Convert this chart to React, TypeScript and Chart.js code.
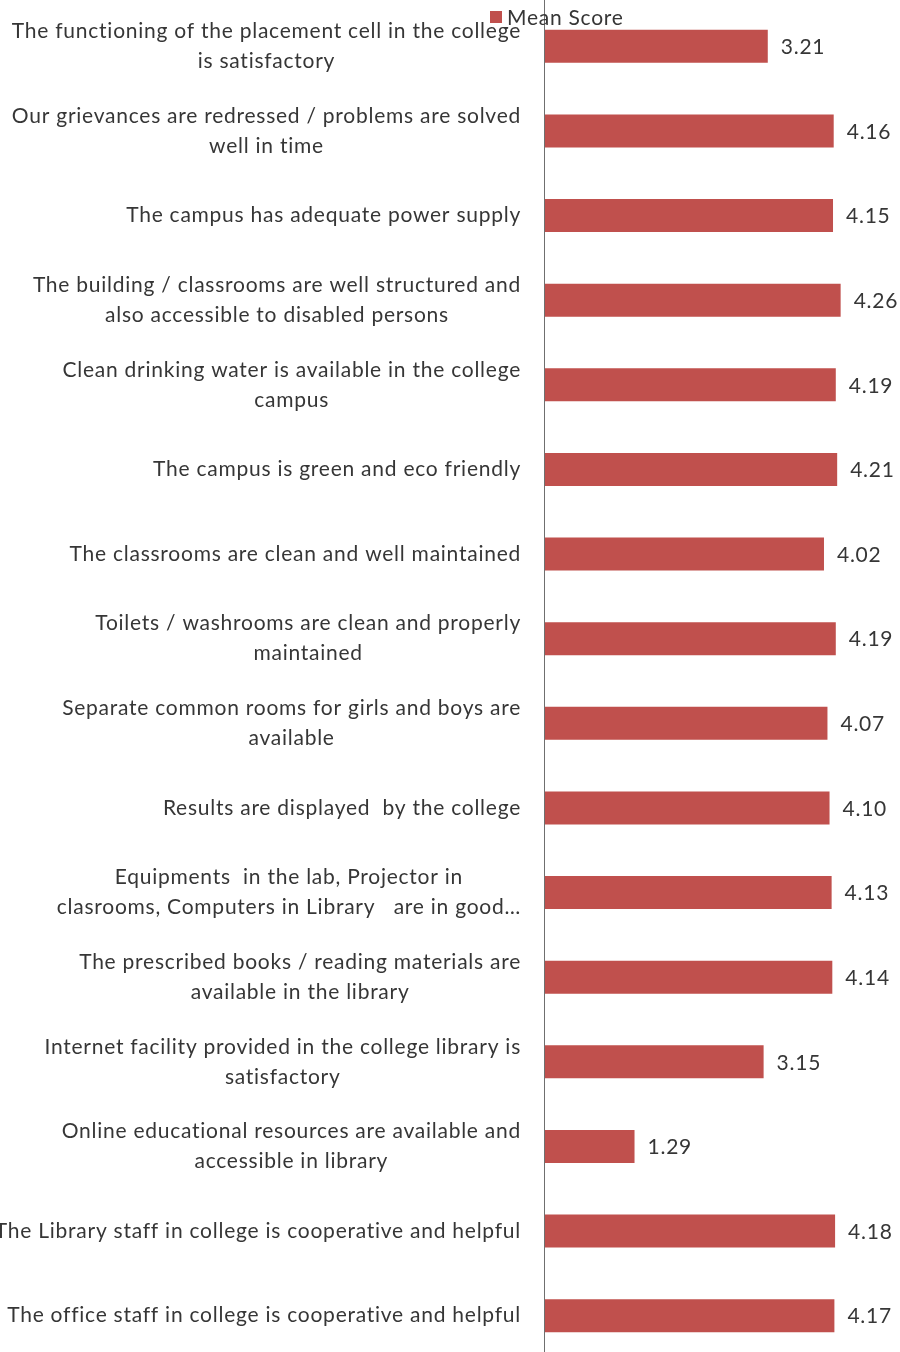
import React, { useEffect, useRef } from "react";
import { Chart, registerables } from "chart.js";

Chart.register(...registerables);

const categories: string[][] = [
  ["The functioning of the placement cell in the college", "is satisfactory"],
  ["Our grievances are redressed / problems are solved", "well in time"],
  ["The campus has adequate power supply"],
  ["The building / classrooms are well structured and", "also accessible to disabled persons"],
  ["Clean drinking water is available in the college", "campus"],
  ["The campus is green and eco friendly"],
  ["The classrooms are clean and well maintained"],
  ["Toilets / washrooms are clean and properly", "maintained"],
  ["Separate common rooms for girls and boys are", "available"],
  ["Results are displayed  by the college"],
  ["Equipments  in the lab, Projector in", "clasrooms, Computers in Library   are in good…"],
  ["The prescribed books / reading materials are", "available in the library"],
  ["Internet facility provided in the college library is", "satisfactory"],
  ["Online educational resources are available and", "accessible in library"],
  ["The Library staff in college is cooperative and helpful"],
  ["The office staff in college is cooperative and helpful"],
];

const meanScores: number[] = [
  3.21, 4.16, 4.15, 4.26, 4.19, 4.21, 4.02, 4.19, 4.07, 4.1, 4.13, 4.14, 3.15, 1.29, 4.18, 4.17,
];

const seriesName = "Mean Score";
const axisMin = 0;
const axisMax = 5;

const BAR_COLOR = "#c0504d";
const TEXT_COLOR = "#363636";
const FONT_FAMILY = "Lato, 'Open Sans', sans-serif";

export default function App() {
  const canvasRef = useRef<HTMLCanvasElement | null>(null);

  useEffect(() => {
    const canvas = canvasRef.current;
    if (!canvas) return;

    const overlay = {
      id: "overlay",
      afterDraw(chart: any) {
        const ctx = chart.ctx as any;
        const area = chart.chartArea;
        const xs = chart.scales.x;
        const ys = chart.scales.y;
        ctx.save();

        // vertical axis line
        const ax = Math.round(area.left) - 0.5;
        ctx.strokeStyle = "#6f6f6f";
        ctx.lineWidth = 1;
        ctx.beginPath();
        ctx.moveTo(ax, 0);
        ctx.lineTo(ax, chart.height);
        ctx.stroke();

        // category labels: block right-aligned, lines centred within block
        ctx.font = `21px ${FONT_FAMILY}`;
        ctx.letterSpacing = "0.75px";
        ctx.fillStyle = TEXT_COLOR;
        ctx.textBaseline = "middle";
        ctx.textAlign = "center";
        const labelRight = area.left - 24;
        const lineH = 30;
        categories.forEach((lines, i) => {
          const y = ys.getPixelForValue(i);
          let w = 0;
          lines.forEach((l) => (w = Math.max(w, ctx.measureText(l).width)));
          const cx = labelRight - w / 2;
          lines.forEach((l, j) => {
            ctx.fillText(l, cx, y + (j - (lines.length - 1) / 2) * lineH);
          });
        });

        // value labels
        ctx.textAlign = "left";
        meanScores.forEach((v, i) => {
          const y = ys.getPixelForValue(i) + 1;
          const x = xs.getPixelForValue(v) + 13;
          ctx.fillText(v.toFixed(2), x, y);
        });

        // legend
        const lx = area.left - 55;
        ctx.fillStyle = BAR_COLOR;
        ctx.fillRect(lx, 11, 12, 12);
        ctx.fillStyle = TEXT_COLOR;
        ctx.textBaseline = "alphabetic";
        ctx.fillText(seriesName, lx + 17, 25);

        ctx.restore();
      },
    };

    const chart = new Chart(canvas, {
      type: "bar",
      data: {
        labels: categories.map((c) => c.join(" ")),
        datasets: [
          {
            label: seriesName,
            data: meanScores,
            backgroundColor: BAR_COLOR,
            borderWidth: 0,
            barPercentage: 0.39,
            categoryPercentage: 1,
          },
        ],
      },
      options: {
        indexAxis: "y",
        responsive: false,
        animation: false,
        devicePixelRatio: 1,
        layout: { padding: { left: 545, right: 8, top: 4, bottom: 2 } },
        plugins: {
          legend: { display: false },
          tooltip: { enabled: false },
        },
        scales: {
          x: { display: false, min: axisMin, max: axisMax },
          y: { display: false },
        },
      },
      plugins: [overlay],
    });

    return () => chart.destroy();
  }, []);

  return (
    <div style={{ position: "fixed", left: 0, top: 0, width: 900, height: 1360, background: "#fff" }}>
      <canvas ref={canvasRef} width={900} height={1360} style={{ display: "block" }} />
    </div>
  );
}
